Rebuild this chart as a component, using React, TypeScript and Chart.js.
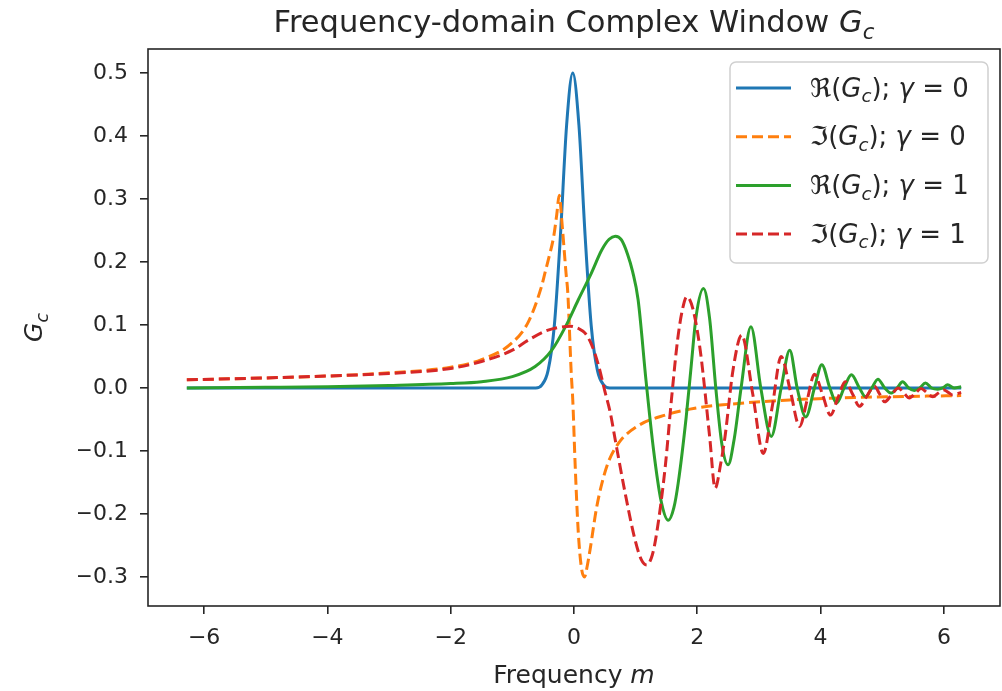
import React, { useEffect, useRef } from "react";
import { Chart, registerables } from "chart.js";

Chart.register(...registerables);

const FONT = "'DejaVu Sans', sans-serif";

// Axis ticks
const xTicks = [-6, -4, -2, 0, 2, 4, 6];
const yTicks = [-0.3, -0.2, -0.1, 0.0, 0.1, 0.2, 0.3, 0.4, 0.5];
const xLimits = [-6.91, 6.91];
const yLimits = [-0.346, 0.538];

// Re(Gc), gamma = 0
const reG0X = [-6.28, -0.62, -0.52, -0.42, -0.32, -0.22, -0.12, -0.02, 0.08, 0.18, 0.28, 0.38, 0.48, 0.58, 6.28];
const reG0Y = [0, 0, 0.005, 0.028, 0.098, 0.242, 0.417, 0.5, 0.417, 0.242, 0.098, 0.028, 0.005, 0, 0];

// Im(Gc), gamma = 0
const imG0X = [-6.28, -5, -4, -3, -2, -1.5, -1.0, -0.74, -0.53, -0.47, -0.4, -0.33, -0.28, -0.24, -0.19, -0.13, -0.1, -0.045, -0.02, 0.02, 0.07, 0.12, 0.17, 0.21, 0.26, 0.37, 0.53, 0.72, 1.04, 1.48, 1.96, 2.5, 3.5, 4.6, 6.28];
const imG0Y = [0.013, 0.016, 0.019, 0.024, 0.033, 0.045, 0.072, 0.105, 0.16, 0.183, 0.21, 0.24, 0.275, 0.306, 0.256, 0.183, 0.15, 0.024, -0.019, -0.125, -0.23, -0.285, -0.3, -0.285, -0.257, -0.188, -0.125, -0.088, -0.06, -0.043, -0.032, -0.026, -0.019, -0.015, -0.012];

// Re(Gc), gamma = 1
const reG1X = [-6.28, -5, -4, -3, -2, -1.5, -1.0, -0.63, -0.36, -0.14, 0.07, 0.28, 0.45, 0.57, 0.67, 0.77, 0.87, 0.95, 1.04, 1.17, 1.29, 1.41, 1.53, 1.62, 1.69, 1.82, 1.9, 1.98, 2.1, 2.2, 2.3, 2.4, 2.5, 2.6, 2.71, 2.87, 3.03, 3.2, 3.36, 3.5, 3.62, 3.76, 3.9, 4.02, 4.15, 4.26, 4.38, 4.5, 4.63, 4.73, 4.83, 4.93, 5.04, 5.14, 5.24, 5.33, 5.43, 5.52, 5.61, 5.7, 5.8, 5.9, 5.98, 6.06, 6.17, 6.28];
const reG1Y = [0, 0.001, 0.002, 0.004, 0.007, 0.01, 0.018, 0.034, 0.06, 0.097, 0.14, 0.182, 0.219, 0.236, 0.241, 0.235, 0.212, 0.185, 0.14, 0.01, -0.098, -0.178, -0.21, -0.19, -0.151, -0.046, 0.034, 0.113, 0.158, 0.11, 0.0, -0.09, -0.122, -0.08, 0.0, 0.097, 0.0, -0.077, 0.0, 0.06, 0.0, -0.046, 0.0, 0.037, 0.0, -0.024, 0.0, 0.021, 0.0, -0.014, 0.0, 0.014, 0.0, -0.008, 0.0, 0.01, 0.0, -0.004, 0.0, 0.008, 0.0, -0.002, 0.0, 0.005, 0.0, 0.002];

// Im(Gc), gamma = 1
const imG1X = [-6.28, -5, -4, -3, -2, -1.5, -1.0, -0.74, -0.47, -0.25, -0.06, 0.08, 0.18, 0.28, 0.4, 0.5, 0.59, 0.67, 0.83, 0.99, 1.09, 1.18, 1.27, 1.34, 1.48, 1.58, 1.68, 1.76, 1.83, 1.93, 2.05, 2.2, 2.29, 2.38, 2.45, 2.58, 2.72, 2.9, 3.07, 3.22, 3.36, 3.51, 3.66, 3.78, 3.9, 4.03, 4.16, 4.28, 4.4, 4.52, 4.63, 4.75, 4.87, 4.96, 5.04, 5.15, 5.26, 5.35, 5.44, 5.54, 5.63, 5.72, 5.82, 5.91, 6.0, 6.07, 6.14, 6.28];
const imG1Y = [0.013, 0.016, 0.019, 0.023, 0.031, 0.042, 0.06, 0.076, 0.09, 0.096, 0.098, 0.094, 0.087, 0.07, 0.035, -0.005, -0.04, -0.083, -0.167, -0.241, -0.272, -0.281, -0.265, -0.231, -0.125, -0.019, 0.076, 0.125, 0.145, 0.125, 0.058, -0.077, -0.159, -0.12, -0.077, 0.029, 0.084, -0.01, -0.104, -0.027, 0.05, -0.005, -0.061, -0.02, 0.022, -0.01, -0.043, -0.016, 0.01, -0.01, -0.029, -0.013, 0.003, -0.01, -0.022, -0.011, 0.0, -0.008, -0.016, -0.008, -0.001, -0.007, -0.014, -0.008, -0.003, -0.007, -0.011, -0.007];

type Seg = { t: string; it?: boolean; sub?: boolean };

// Rich-text labels
const titleSegs: Seg[] = [{ t: "Frequency-domain Complex Window " }, { t: "G", it: true }, { t: "c", it: true, sub: true }];
const xLabelSegs: Seg[] = [{ t: "Frequency " }, { t: "m", it: true }];
const yLabelSegs: Seg[] = [{ t: "G", it: true }, { t: "c", it: true, sub: true }];
const legendSegs: Seg[][] = [
  [{ t: "ℜ(" }, { t: "G", it: true }, { t: "c", it: true, sub: true }, { t: "); " }, { t: "γ", it: true }, { t: " = 0" }],
  [{ t: "ℑ(" }, { t: "G", it: true }, { t: "c", it: true, sub: true }, { t: "); " }, { t: "γ", it: true }, { t: " = 0" }],
  [{ t: "ℜ(" }, { t: "G", it: true }, { t: "c", it: true, sub: true }, { t: "); " }, { t: "γ", it: true }, { t: " = 1" }],
  [{ t: "ℑ(" }, { t: "G", it: true }, { t: "c", it: true, sub: true }, { t: "); " }, { t: "γ", it: true }, { t: " = 1" }],
];

const colors = ["#1f77b4", "#ff7f0e", "#2ca02c", "#d62728"];
const dashes = [[], [11, 5], [], [11, 5]];

function toPoints(xs: number[], ys: number[]) {
  return xs.map((x, i) => ({ x, y: ys[i] }));
}

function fmt(v: number, digits: number) {
  const s = Math.abs(v).toFixed(digits);
  return v < -1e-9 ? "\u2212" + s : s;
}

function drawRich(ctx: CanvasRenderingContext2D, segs: Seg[], x: number, y: number, size: number, align: "left" | "center") {
  const fontFor = (s: Seg) => `${s.it ? "italic " : ""}${s.sub ? size * 0.7 : size}px ${FONT}`;
  const widths = segs.map((s) => {
    ctx.font = fontFor(s);
    return ctx.measureText(s.t).width;
  });
  const total = widths.reduce((a, b) => a + b, 0);
  let cx = align === "center" ? x - total / 2 : x;
  ctx.textAlign = "left";
  ctx.textBaseline = "alphabetic";
  segs.forEach((s, i) => {
    ctx.font = fontFor(s);
    ctx.fillText(s.t, cx, s.sub ? y + size * 0.22 : y);
    cx += widths[i];
  });
  return total;
}

const decorPlugin = {
  id: "decor",
  afterDatasetsDraw(chart: any) {
    const { ctx, chartArea: a } = chart;
    ctx.save();
    ctx.strokeStyle = "#262626";
    ctx.lineWidth = 1.6;
    ctx.strokeRect(a.left, a.top, a.right - a.left, a.bottom - a.top);
    ctx.restore();
  },
  afterDraw(chart: any) {
    const { ctx, chartArea: a } = chart;
    const cx = (a.left + a.right) / 2;
    ctx.save();
    ctx.fillStyle = "#262626";
    drawRich(ctx, titleSegs, cx, 32, 30.5, "center");
    drawRich(ctx, xLabelSegs, cx, 683, 25, "center");
    ctx.save();
    ctx.translate(42, (a.top + a.bottom) / 2);
    ctx.rotate(-Math.PI / 2);
    drawRich(ctx, yLabelSegs, 0, 0, 25, "center");
    ctx.restore();

    // legend
    const bx = 730, by = 62, bw = 258, bh = 201, r = 6;
    ctx.beginPath();
    ctx.moveTo(bx + r, by);
    ctx.arcTo(bx + bw, by, bx + bw, by + bh, r);
    ctx.arcTo(bx + bw, by + bh, bx, by + bh, r);
    ctx.arcTo(bx, by + bh, bx, by, r);
    ctx.arcTo(bx, by, bx + bw, by, r);
    ctx.closePath();
    ctx.fillStyle = "rgba(255,255,255,0.8)";
    ctx.fill();
    ctx.strokeStyle = "#d0d0d0";
    ctx.lineWidth = 1.5;
    ctx.stroke();
    chart.data.datasets.forEach((ds: any, i: number) => {
      const rowY = 88 + i * 48.7;
      ctx.beginPath();
      ctx.setLineDash(ds.borderDash || []);
      ctx.strokeStyle = ds.borderColor;
      ctx.lineWidth = 3;
      ctx.moveTo(736, rowY);
      ctx.lineTo(791, rowY);
      ctx.stroke();
      ctx.setLineDash([]);
      ctx.fillStyle = "#262626";
      drawRich(ctx, legendSegs[i], 810, rowY + 8.5, 26, "left");
    });
    ctx.restore();
  },
};

export default function App() {
  const ref = useRef<HTMLCanvasElement | null>(null);
  useEffect(() => {
    if (!ref.current) return;
    const series = [
      toPoints(reG0X, reG0Y),
      toPoints(imG0X, imG0Y),
      toPoints(reG1X, reG1Y),
      toPoints(imG1X, imG1Y),
    ];
    const chart = new Chart(ref.current, {
      type: "line",
      data: {
        datasets: series.map((data, i) => ({
          label: ["Re γ=0", "Im γ=0", "Re γ=1", "Im γ=1"][i],
          data,
          borderColor: colors[i],
          backgroundColor: colors[i],
          borderWidth: 3,
          borderDash: dashes[i],
          pointRadius: 0,
          fill: false,
          cubicInterpolationMode: "monotone" as const,
          order: 4 - i,
        })),
      },
      options: {
        animation: false,
        responsive: false,
        devicePixelRatio: 1,
        layout: { padding: { top: 49, left: 78, right: 2, bottom: 40 } },
        plugins: { legend: { display: false }, title: { display: false }, tooltip: { enabled: false } },
        scales: {
          x: {
            type: "linear",
            min: xLimits[0],
            max: xLimits[1],
            afterBuildTicks: (s: any) => {
              s.ticks = xTicks.map((v) => ({ value: v }));
            },
            afterFit: (s: any) => {
              s.height = 45;
            },
            grid: { drawOnChartArea: false, drawTicks: true, tickLength: 8, color: "#262626", lineWidth: 1.6 },
            border: { display: false },
            ticks: {
              color: "#262626",
              padding: 11,
              maxRotation: 0,
              autoSkip: false,
              font: { family: FONT, size: 22 },
              callback: (v: any) => fmt(Number(v), 0),
            },
          },
          y: {
            type: "linear",
            min: yLimits[0],
            max: yLimits[1],
            afterBuildTicks: (s: any) => {
              s.ticks = yTicks.map((v) => ({ value: v }));
            },
            afterFit: (s: any) => {
              s.width = 70;
            },
            grid: { drawOnChartArea: false, drawTicks: true, tickLength: 8, color: "#262626", lineWidth: 1.6 },
            border: { display: false },
            ticks: {
              color: "#262626",
              padding: 12,
              autoSkip: false,
              font: { family: FONT, size: 22 },
              callback: (v: any) => fmt(Number(v), 1),
            },
          },
        },
      },
      plugins: [decorPlugin],
    });
    return () => chart.destroy();
  }, []);
  return (
    <div style={{ position: "absolute", left: 0, top: 0, width: 1002, height: 691, background: "#fff" }}>
      <canvas ref={ref} width={1002} height={691} style={{ display: "block" }} />
    </div>
  );
}
